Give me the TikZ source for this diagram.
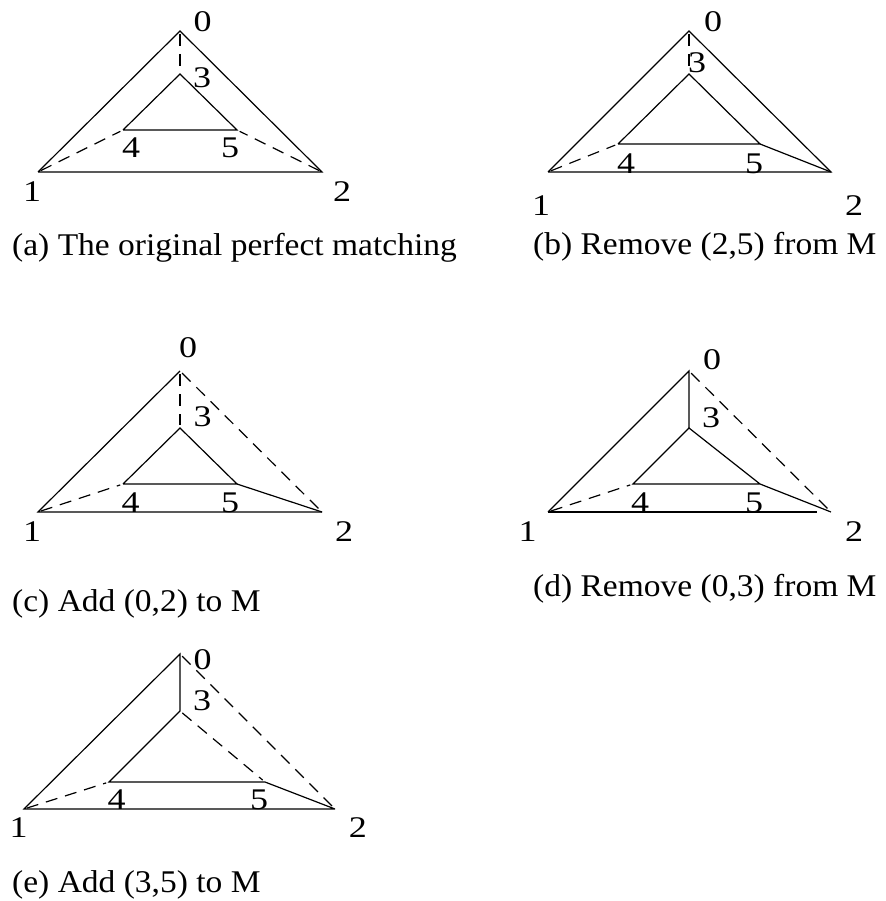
\documentclass[tikz,border=0pt]{standalone}
\usepackage{fontspec}
\setmainfont{Liberation Serif}
\begin{document}
\begin{tikzpicture}[x=1pt,y=-1pt,
  edge/.style={line width=1.2pt},
  match/.style={edge, dash pattern=on 12pt off 8pt, shorten <=3pt, shorten >=3pt},
  lbl/.style={inner sep=0pt, font=\fontsize{30}{36}\selectfont, xscale=1.2},
  captxt/.style={inner sep=0pt, anchor=base west, font=\fontsize{31.6}{38}\selectfont, xscale=1.06}]
\useasboundingbox[fill=white] (0,0) rectangle (885,901);

% ---------- (a) ----------
\coordinate (a0) at (180,31);  \coordinate (a1) at (38,172);  \coordinate (a2) at (322,172);
\coordinate (a3) at (180,74);  \coordinate (a4) at (123,130); \coordinate (a5) at (237,130);
\draw[edge] (a1) -- (a0) -- (a2) -- (a1);
\draw[edge] (a4) -- (a3) -- (a5) -- (a4);
\draw[match] (a0) -- (a3);
\draw[match] (a1) -- (a4);
\draw[match] (a2) -- (a5);
\node[lbl] (la0) at (202.5,21.5) {0};
\node[lbl] (la3) at (202,78) {3};
\node[lbl] (la4) at (131,148) {4};
\node[lbl] (la5) at (230,148) {5};
\node[lbl] (la1) at (32,192) {1};
\node[lbl] (la2) at (342,192) {2};
\node[captxt] (ca) at (12,255) {(a) The original perfect matching};

% ---------- (b) ----------
\coordinate (b0) at (689,31);  \coordinate (b1) at (548,172); \coordinate (b2) at (831,172);
\coordinate (b3) at (689,74);  \coordinate (b4) at (618,144); \coordinate (b5) at (760,144);
\draw[edge] (b1) -- (b0) -- (b2) -- (b1);
\draw[edge] (b4) -- (b3) -- (b5) -- (b4);
\draw[edge] (b5) -- (b2);
\draw[match] (b0) -- (b3);
\draw[match] (b1) -- (b4);
\node[lbl] (lb0) at (713,21.5) {0};
\node[lbl] (lb3) at (697,63) {3};
\node[lbl] (lb4) at (626,164) {4};
\node[lbl] (lb5) at (754,164) {5};
\node[lbl] (lb1) at (541,206) {1};
\node[lbl] (lb2) at (854,206) {2};
\node[captxt] (cb) at (533,254) {(b) Remove (2,5) from M};

% ---------- (c) ----------
\coordinate (c0) at (180,371); \coordinate (c1) at (38,512);  \coordinate (c2) at (322,512);
\coordinate (c3) at (180,428); \coordinate (c4) at (123,484); \coordinate (c5) at (237,484);
\draw[edge] (c2) -- (c1) -- (c0);
\draw[edge] (c4) -- (c3) -- (c5) -- (c4);
\draw[edge] (c5) -- (c2);
\draw[match] (c0) -- (c3);
\draw[match] (c1) -- (c4);
\draw[match] (c0) -- (c2);
\node[lbl] (lc0) at (188,348) {0};
\node[lbl] (lc3) at (202.5,417) {3};
\node[lbl] (lc4) at (130.5,503) {4};
\node[lbl] (lc5) at (230,503) {5};
\node[lbl] (lc1) at (32,532) {1};
\node[lbl] (lc2) at (344,532) {2};
\node[captxt] (cc) at (12,611) {(c) Add (0,2) to M};

% ---------- (d) ----------
\coordinate (d0) at (689,371); \coordinate (d1) at (548,512); \coordinate (d2) at (831,512);
\coordinate (d3) at (689,428); \coordinate (d4) at (633,484); \coordinate (d5) at (760,484);
\draw[edge] (d2) -- (d5) -- (d4) -- (d3) -- (d5);
\draw[edge] (d1) -- (d0) -- (d3);
\draw[edge, shorten >=14pt] (d1) -- (d2);
\draw[match] (d0) -- (d2);
\draw[match] (d1) -- (d4);
\node[lbl] (ld0) at (712,360) {0};
\node[lbl] (ld3) at (711,417.5) {3};
\node[lbl] (ld4) at (640,503) {4};
\node[lbl] (ld5) at (754,503) {5};
\node[lbl] (ld1) at (527.5,532) {1};
\node[lbl] (ld2) at (854,532) {2};
\node[captxt] (cd) at (533,596) {(d) Remove (0,3) from M};

% ---------- (e) ----------
\coordinate (e0) at (180,654); \coordinate (e1) at (24,809);  \coordinate (e2) at (335,809);
\coordinate (e3) at (180,711); \coordinate (e4) at (109,782); \coordinate (e5) at (265,782);
\draw[edge] (e2) -- (e1) -- (e0) -- (e3) -- (e4) -- (e5) -- (e2);
\draw[match] (e0) -- (e2);
\draw[match] (e1) -- (e4);
\draw[match] (e3) -- (e5);
\node[lbl] (le0) at (202.7,660) {0};
\node[lbl] (le3) at (202,701) {3};
\node[lbl] (le4) at (116.7,799.5) {4};
\node[lbl] (le5) at (259,799.5) {5};
\node[lbl] (le1) at (18.5,828) {1};
\node[lbl] (le2) at (357.8,828) {2};
\node[captxt] (ce) at (12,892) {(e) Add (3,5) to M};
\end{tikzpicture}
\end{document}
